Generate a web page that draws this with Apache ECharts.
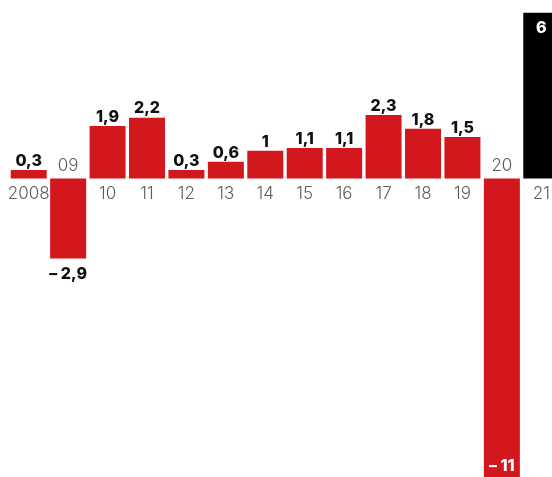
<!DOCTYPE html>
<html>
<head>
<meta charset="utf-8">
<script src="https://cdn.jsdelivr.net/npm/echarts@6/dist/echarts.min.js"></script>
<style>
html,body{margin:0;padding:0;background:#fff;overflow:hidden;}
#c{width:552px;height:477px;}
</style>
</head>
<body>
<div id="c"></div>
<script>
var categories = ['2008','09','10','11','12','13','14','15','16','17','18','19','20','21'];
var values = [0.3, -2.9, 1.9, 2.2, 0.3, 0.6, 1, 1.1, 1.1, 2.3, 1.8, 1.5, -11, 6];
var highlightIndex = 13;

var RED = '#d2171d';
var BLACK = '#000000';

function fmt(v) {
  var s = String(Math.abs(v)).replace('.', ',');
  return v < 0 ? '\u2013 ' + s : s;
}

var barData = values.map(function (v, i) {
  var item = { value: v, itemStyle: { color: i === highlightIndex ? BLACK : RED } };
  var lab = { show: true, formatter: fmt(v), fontFamily: 'Inter', fontWeight: 800, fontSize: 16, color: '#111' };
  if (i === highlightIndex) {
    lab.position = 'insideTop'; lab.distance = 7; lab.color = '#fff';
  } else if (v < -5) {
    lab.position = 'insideBottom'; lab.distance = 8; lab.color = '#fff';
  } else if (v < 0) {
    lab.position = 'bottom'; lab.distance = 8;
  } else {
    lab.position = 'top'; lab.distance = 1;
  }
  item.label = lab;
  return item;
});

var catLabelData = categories.map(function (c, i) {
  var neg = values[i] < 0;
  return {
    value: [c, 0],
    label: {
      show: true, formatter: c, position: 'inside',
      offset: [0, neg ? -13 : 15],
      fontFamily: 'Inter', fontWeight: 300, fontSize: 17, color: '#333'
    }
  };
});

var chart = echarts.init(document.getElementById('c'));
chart.setOption({
  animation: false,
  grid: { left: 9, top: 12.7, width: 552, height: 469.5, outerBoundsMode: 'none', containLabel: false },
  xAxis: {
    type: 'category', data: categories,
    axisLine: { show: false }, axisTick: { show: false }, axisLabel: { show: false }
  },
  yAxis: {
    type: 'value', min: -11, max: 6,
    axisLine: { show: false }, axisTick: { show: false }, axisLabel: { show: false },
    splitLine: { show: false }
  },
  series: [
    { type: 'bar', data: barData, barWidth: 36 },
    { type: 'scatter', data: catLabelData, symbolSize: 0, silent: true }
  ]
});
</script>
</body>
</html>
